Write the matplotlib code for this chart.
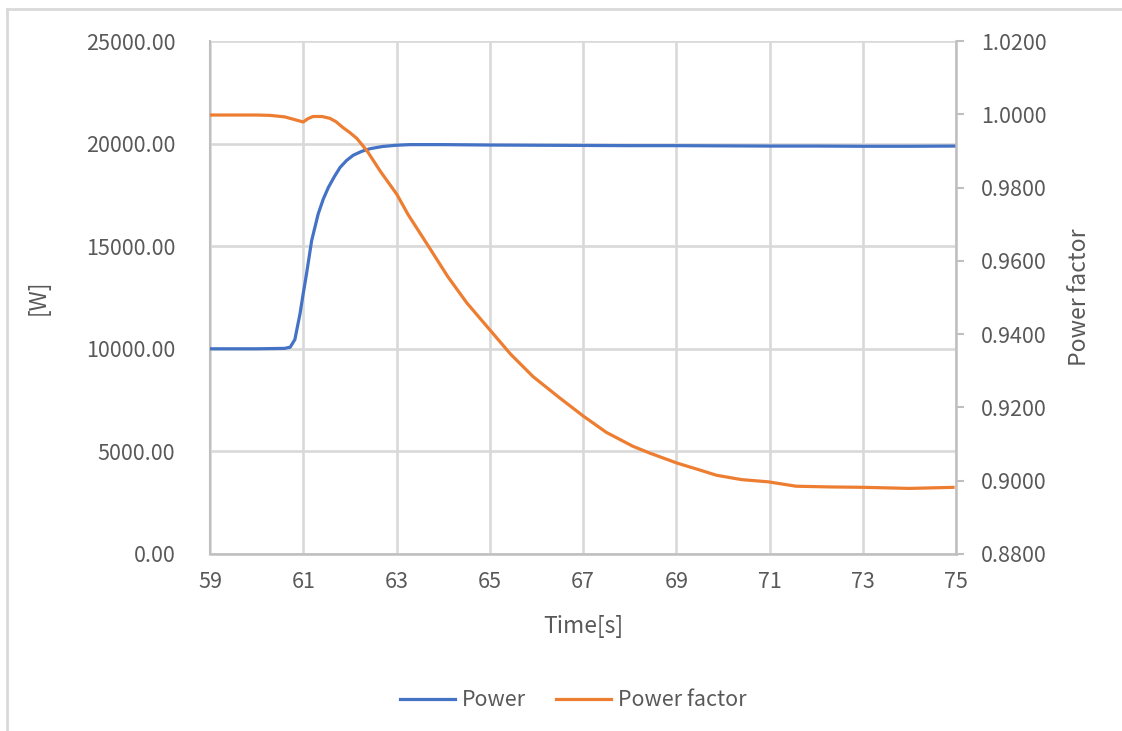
import numpy as np
import matplotlib.pyplot as plt
from matplotlib.lines import Line2D
from matplotlib.ticker import FormatStrFormatter

plt.rcParams['font.family'] = ['Noto Sans CJK SC', 'DejaVu Sans']

# Power [W] against time
t_power = [59.0, 59.5, 60.0, 60.29, 60.6, 60.72, 60.82, 60.93, 61.0, 61.07, 61.18, 61.32,
           61.43, 61.54, 61.67, 61.79, 61.93, 62.07, 62.25, 62.43, 62.7, 63.0, 63.29, 64.0,
           65.0, 66.0, 67.0, 68.0, 69.0, 70.0, 71.0, 72.0, 73.0, 74.0, 75.0]
power = [10000, 10000, 10000, 10010, 10020, 10080, 10450, 11700, 12700, 13650, 15270, 16570,
         17300, 17870, 18400, 18840, 19180, 19430, 19620, 19750, 19860, 19920, 19950, 19950,
         19930, 19920, 19910, 19900, 19900, 19890, 19880, 19880, 19870, 19870, 19880]

# Power factor against time
t_pf = [59.0, 59.5, 60.0, 60.29, 60.6, 60.8, 61.0, 61.1, 61.21, 61.4, 61.57, 61.7, 61.85,
        62.0, 62.15, 62.37, 62.65, 63.01, 63.25, 63.72, 64.1, 64.51, 65.0, 65.45, 65.93,
        66.5, 67.0, 67.5, 68.07, 68.44, 69.02, 69.51, 69.86, 70.4, 70.97, 71.57, 72.3,
        73.0, 74.0, 74.97]
pf = [0.9998, 0.9998, 0.9998, 0.9997, 0.9993, 0.9986, 0.9979, 0.9988, 0.9994, 0.9994,
      0.9989, 0.9980, 0.9964, 0.9950, 0.9934, 0.9900, 0.9845, 0.9781, 0.9726, 0.9633,
      0.9557, 0.9485, 0.9412, 0.9345, 0.9284, 0.9226, 0.9177, 0.9132, 0.9094, 0.9075,
      0.9048, 0.9029, 0.9015, 0.9003, 0.8997, 0.8985, 0.8983, 0.8982, 0.8979, 0.8982]

x_ticks = np.arange(59, 76, 2)
blue = '#4472C4'
orange = '#ED7D31'
grid_c = '#D9D9D9'
axis_c = '#BFBFBF'
text_c = '#595959'
fs = 15.5

fig = plt.figure(figsize=(11.22, 7.31), dpi=100)
ax = fig.add_axes([210 / 1122, (731 - 554) / 731, 746 / 1122, 513 / 731])
ax2 = ax.twinx()

ax.plot(t_power, power, color=blue, lw=2.3, solid_capstyle='butt', zorder=3)
ax2.plot(t_pf, pf, color=orange, lw=2.3, solid_capstyle='butt', zorder=3)

ax.set_xlim(59, 75)
ax.set_ylim(0, 25000)
ax2.set_ylim(0.88, 1.02)
ax.set_xticks(x_ticks)
ax.set_yticks(np.arange(0, 25001, 5000))
ax2.set_yticks(np.arange(0.88, 1.0201, 0.02))
ax.yaxis.set_major_formatter(FormatStrFormatter('%.2f'))
ax2.yaxis.set_major_formatter(FormatStrFormatter('%.4f'))

ax.grid(True, color=grid_c, lw=1.9)
ax.set_axisbelow(True)

for a in (ax, ax2):
    for side in ('top', 'right', 'left', 'bottom'):
        a.spines[side].set_visible(False)
ax.spines['left'].set_visible(True)
ax.spines['left'].set_color(axis_c)
ax.spines['left'].set_linewidth(1.5)
ax.spines['bottom'].set_visible(True)
ax.spines['bottom'].set_color(axis_c)
ax.spines['bottom'].set_linewidth(1.8)
ax2.spines['right'].set_visible(True)
ax2.spines['right'].set_color(axis_c)
ax2.spines['right'].set_linewidth(1.8)

ax.tick_params(axis='y', length=0, pad=25, labelsize=fs, labelcolor=text_c)
ax.tick_params(axis='x', length=0, pad=12, labelsize=fs, labelcolor=text_c)
ax2.tick_params(axis='y', length=6, width=1.5, color=axis_c, pad=12,
                labelsize=fs, labelcolor=text_c)

ax.set_xlabel('Time[s]', fontsize=fs + 1, color=text_c, labelpad=16)
ax.set_ylabel('[W]', fontsize=fs + 1, color=text_c, labelpad=26)
ax2.set_ylabel('Power factor', fontsize=fs + 1, color=text_c, labelpad=15)

handles = [Line2D([], [], color=blue, lw=2.3), Line2D([], [], color=orange, lw=2.3)]
fig.legend(handles, ['Power', 'Power factor'], loc='center', bbox_to_anchor=(0.511, 0.042),
           ncol=2, frameon=False, fontsize=fs, labelcolor=text_c, handlelength=2.55,
           handletextpad=0.33, columnspacing=1.4)

# light frame around the chart area
fig.add_artist(Line2D([7 / 1122, 7 / 1122], [0, 1 - 9 / 731], transform=fig.transFigure,
                      color=grid_c, lw=2))
fig.add_artist(Line2D([7 / 1122, 1], [1 - 9 / 731, 1 - 9 / 731], transform=fig.transFigure,
                      color=grid_c, lw=2))

fig.savefig('out.png', dpi=100)
